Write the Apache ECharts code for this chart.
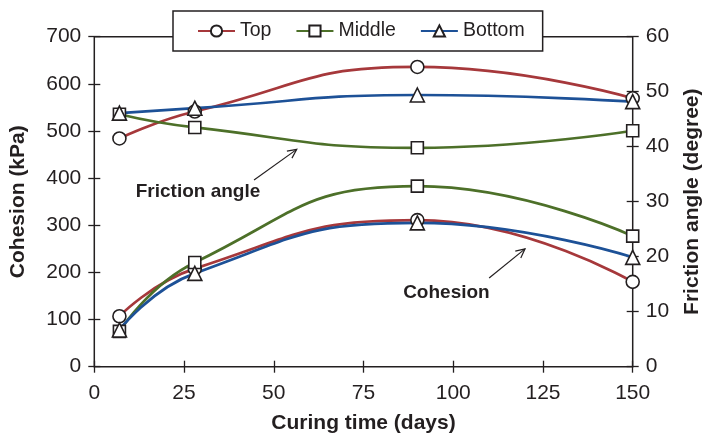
<!DOCTYPE html>
<html>
<head>
<meta charset="utf-8">
<script src="https://cdn.jsdelivr.net/npm/echarts@6/dist/echarts.min.js"></script>
<style>
  html, body { margin: 0; padding: 0; background: #fff; }
  #chart { width: 706px; height: 434px; }
</style>
</head>
<body>
<div id="chart"></div>
<script>
// Curing time of the samples (days)
const curingDays = [7, 28, 90, 150];

// Sample positions shown in the legend
const positions = ['Top', 'Middle', 'Bottom'];

// Cohesion (kPa) per position
const cohesionTop = [107, 208, 311, 180];
const cohesionMiddle = [75, 221, 383, 277];
const cohesionBottom = [78, 198, 305, 232];

// Friction angle (degree) per position
const frictionTop = [41.5, 46.4, 54.5, 48.8];
const frictionMiddle = [45.9, 43.5, 39.8, 42.9];
const frictionBottom = [46.1, 47.0, 49.4, 48.2];

// Axis tick values
const dayTicks = [0, 25, 50, 75, 100, 125, 150];
const cohesionTicks = [0, 100, 200, 300, 400, 500, 600, 700];
const frictionTicks = [0, 10, 20, 30, 40, 50, 60];

// Text callouts: label anchor and arrow (tail -> head) in days / kPa
const callouts = [
  { text: 'Friction angle', at: [28.9, 372], tail: [44.5, 396], head: [56.4, 461] },
  { text: 'Cohesion', at: [98.1, 157], tail: [110, 188], head: [120, 250] }
];

const INK = '#231f20';
const FONT = '"Liberation Sans", Arial, Helvetica, sans-serif';
const lineColors = { Top: '#a6383b', Middle: '#4d7029', Bottom: '#1d5197' };
const symbols = { Top: ['circle', 13], Middle: ['rect', 12], Bottom: ['triangle', 14] };

const cohesionByPos = { Top: cohesionTop, Middle: cohesionMiddle, Bottom: cohesionBottom };
const frictionByPos = { Top: frictionTop, Middle: frictionMiddle, Bottom: frictionBottom };

function pairs(values) {
  return curingDays.map((d, i) => [d, values[i]]);
}

function makeSeries(pos, values, yIndex) {
  return {
    name: pos,
    type: 'line',
    yAxisIndex: yIndex,
    data: pairs(values),
    smooth: 0.5,
    symbol: symbols[pos][0],
    symbolSize: symbols[pos][1],
    showAllSymbol: true,
    lineStyle: { color: lineColors[pos], width: 2.7 },
    itemStyle: { color: '#fff', borderColor: INK, borderWidth: 1.6 },
    emphasis: { disabled: true },
    animation: false
  };
}

const series = [];
positions.forEach(pos => {
  series.push(makeSeries(pos, cohesionByPos[pos], 0));
  series.push(makeSeries(pos, frictionByPos[pos], 1));
});

// Value axis drawn 6px inside the frame so its outward ticks cross the frame line
function valueAxis(ticks, extra) {
  return Object.assign({
    type: 'value',
    min: ticks[0],
    max: ticks[ticks.length - 1],
    interval: ticks[1] - ticks[0],
    offset: -6,
    axisLine: { show: false },
    axisTick: { show: true, inside: false, length: 12, lineStyle: { color: INK, width: 1.3 } },
    splitLine: { show: false },
    axisLabel: { color: INK, fontSize: 21, fontFamily: FONT, margin: 19 },
    nameLocation: 'middle',
    nameTextStyle: { color: INK, fontSize: 21, fontWeight: 'bold', fontFamily: FONT }
  }, extra);
}

const chart = echarts.init(document.getElementById('chart'), null, { renderer: 'canvas' });

chart.setOption({
  animation: false,
  backgroundColor: '#fff',
  grid: {
    left: 94.3, right: 73.3, top: 36.7, bottom: 67.3,
    outerBoundsMode: 'none',
    containLabel: false,
    show: true, borderColor: INK, borderWidth: 1.5, backgroundColor: 'transparent'
  },
  legend: {
    data: positions,
    left: 173, top: 11,
    padding: [10, 18, 10, 24],
    itemGap: 24,
    itemWidth: 37, itemHeight: 14,
    backgroundColor: '#fff',
    borderColor: INK, borderWidth: 1.5,
    textStyle: { color: INK, fontSize: 19.5, fontFamily: FONT },
    selectedMode: false
  },
  xAxis: valueAxis(dayTicks, {
    position: 'bottom',
    name: 'Curing time (days)',
    nameGap: 52,
    axisLabel: { color: INK, fontSize: 21, fontFamily: FONT, margin: 22 }
  }),
  yAxis: [
    valueAxis(cohesionTicks, {
      position: 'left',
      name: 'Cohesion (kPa)',
      nameRotate: 90,
      nameGap: 72
    }),
    valueAxis(frictionTicks, {
      position: 'right',
      name: 'Friction angle (degree)',
      nameRotate: 90,
      nameGap: 55
    })
  ],
  series: series
});

// Callout labels with open arrowheads, placed through the chart's own coordinate mapping
function toPx(pt) {
  return chart.convertToPixel({ xAxisIndex: 0, yAxisIndex: 0 }, pt);
}

const graphics = [];
callouts.forEach(c => {
  const at = toPx(c.at);
  const t = toPx(c.tail);
  const h = toPx(c.head);
  graphics.push({
    type: 'text', x: at[0], y: at[1], z: 50,
    style: { text: c.text, fill: INK, font: 'bold 19px ' + FONT, align: 'center', verticalAlign: 'middle' }
  });
  graphics.push({
    type: 'line', z: 50,
    shape: { x1: t[0], y1: t[1], x2: h[0], y2: h[1] },
    style: { stroke: INK, lineWidth: 1.2 }
  });
  const ang = Math.atan2(h[1] - t[1], h[0] - t[0]);
  const len = 10, spread = 0.45;
  const p1 = [h[0] - len * Math.cos(ang - spread), h[1] - len * Math.sin(ang - spread)];
  const p2 = [h[0] - len * Math.cos(ang + spread), h[1] - len * Math.sin(ang + spread)];
  graphics.push({
    type: 'polyline', z: 50,
    shape: { points: [p1, h, p2] },
    style: { stroke: INK, lineWidth: 1.2, fill: null }
  });
});
chart.setOption({ graphic: graphics });
</script>
</body>
</html>
